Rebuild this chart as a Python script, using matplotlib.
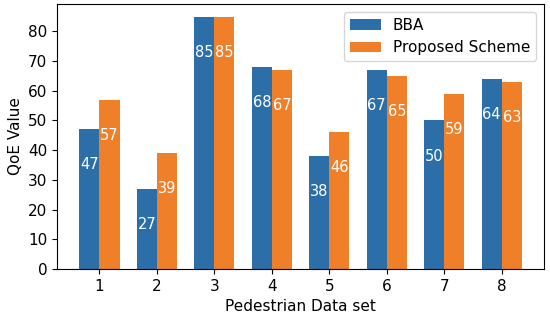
import numpy as np
import matplotlib
matplotlib.use("Agg")
import matplotlib.pyplot as plt

# Data
datasets = [1, 2, 3, 4, 5, 6, 7, 8]
bba = [47, 27, 85, 68, 38, 67, 50, 64]
proposed = [57, 39, 85, 67, 46, 65, 59, 63]

BAR_WIDTH = 0.35

fig, ax = plt.subplots(figsize=(5.5, 3.23), dpi=100)

x = np.array(datasets)
bars_bba = ax.bar(x - BAR_WIDTH / 2, bba, BAR_WIDTH, label='BBA', color='#2c6fa8')
bars_prop = ax.bar(x + BAR_WIDTH / 2, proposed, BAR_WIDTH,
                   label='Proposed Scheme', color='#f07f2a')

# Value labels inside the bars, some way below the top
for bars in (bars_bba, bars_prop):
    ax.bar_label(bars, padding=-31, color='white', fontsize=10.5)

ax.set_xticks(x)
ax.set_xticklabels([str(d) for d in datasets])
ax.set_yticks(np.arange(0, 90, 10))
ax.tick_params(labelsize=11)
ax.set_xlabel('Pedestrian Data set', fontsize=11)
ax.set_ylabel('QoE Value', fontsize=11)
ax.legend(loc='upper right', fontsize=11)

fig.subplots_adjust(left=0.104, right=0.989, top=0.988, bottom=0.167)
fig.savefig('out.png', dpi=100)
